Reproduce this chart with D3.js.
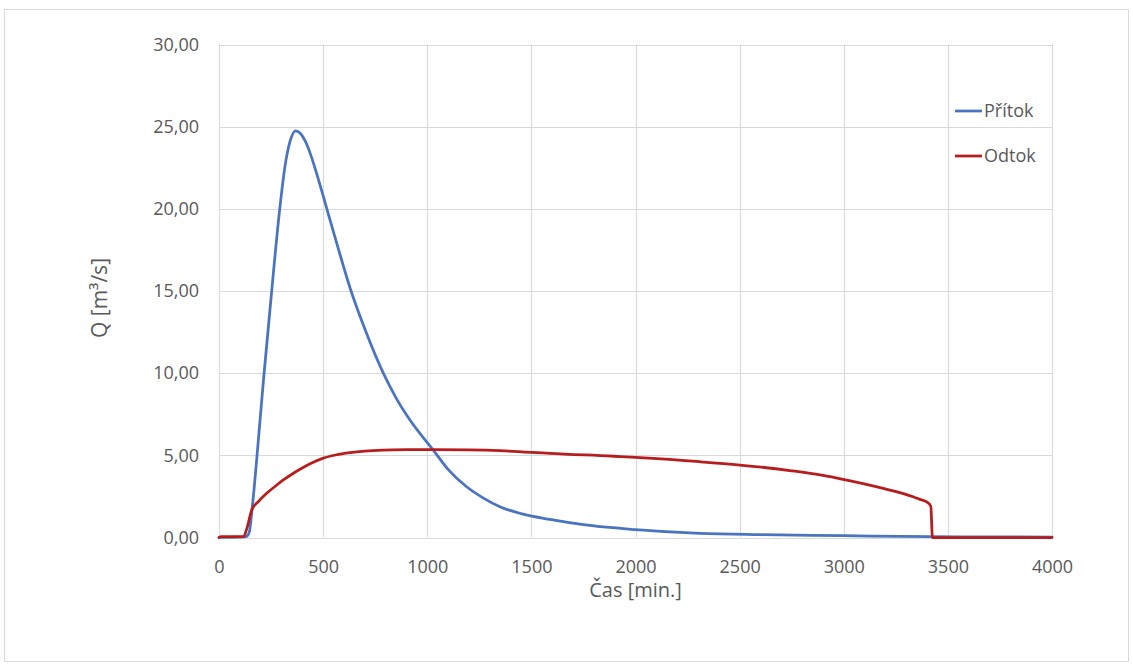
<!DOCTYPE html>
<html>
<head>
<meta charset="utf-8">
<script src="https://cdn.jsdelivr.net/npm/d3@7"></script>
<style>
  html, body { margin: 0; padding: 0; background: #fff; }
  svg { display: block; }
  text { font-family: "Open Sans", "Noto Sans", sans-serif; fill: #595959; }
</style>
</head>
<body>
<svg id="chart" width="1133" height="667"></svg>
<script>
// Hydrograph: inflow (Přítok) and outflow (Odtok) of a reservoir, time in minutes
const inflowTime = [0, 100, 130, 145, 160, 180, 213, 253, 290, 317, 341, 368, 390, 415, 440, 470, 509, 570, 629, 700, 789, 850, 917, 1029, 1100, 1189, 1270, 1349, 1450, 1589, 1750, 2000, 2309, 2600, 3000, 3420, 3700, 4000];
const inflowQ    = [0, 0.02, 0.05, 0.3, 1.87, 4.6, 9.5, 15.0, 19.8, 22.6, 24.1, 24.75, 24.6, 24.1, 23.3, 22.1, 20.4, 17.7, 15.2, 12.7, 10.0, 8.5, 7.15, 5.32, 4.15, 3.09, 2.4, 1.87, 1.45, 1.1, 0.78, 0.48, 0.25, 0.17, 0.11, 0.05, 0.04, 0.03];

const outflowTime = [0, 10, 60, 117, 135, 157, 190, 229, 270, 309, 350, 389, 440, 501, 560, 629, 700, 789, 900, 1029, 1200, 1349, 1589, 2000, 2309, 2501, 2750, 2900, 2997, 3189, 3333, 3365, 3400, 3418, 3426, 3500, 4000];
const outflowQ    = [0, 0.05, 0.05, 0.05, 0.6, 1.67, 2.2, 2.69, 3.12, 3.5, 3.85, 4.15, 4.5, 4.83, 5.02, 5.16, 5.25, 5.31, 5.34, 5.35, 5.33, 5.28, 5.12, 4.87, 4.61, 4.41, 4.06, 3.78, 3.54, 2.99, 2.48, 2.32, 2.15, 1.9, 0, 0, 0];

const seriesNames = ["Přítok", "Odtok"];
const seriesColors = ["#4a74c0", "#b81d1d"];

const xTicks = [0, 500, 1000, 1500, 2000, 2500, 3000, 3500, 4000];
const yTicks = [0, 5, 10, 15, 20, 25, 30];

const xTitle = "Čas [min.]";
const yTitle = "Q [m³/s]";

const plot = { left: 219, right: 1052, top: 44.5, bottom: 537.5 };

const svg = d3.select("#chart");

// outer chart frame
svg.append("rect")
  .attr("x", 4.5).attr("y", 9.5)
  .attr("width", 1124).attr("height", 652)
  .attr("fill", "#fff").attr("stroke", "#d9d9d9").attr("stroke-width", 1);

const x = d3.scaleLinear().domain([0, 4000]).range([plot.left, plot.right]);
const y = d3.scaleLinear().domain([0, 30]).range([plot.bottom, plot.top]);

const locale = d3.formatLocale({ decimal: ",", thousands: "", grouping: [3], currency: ["", ""] });
const fmtY = locale.format(".2f");

// gridlines
const grid = svg.append("g");
grid.selectAll("line.h").data(yTicks).join("line")
  .attr("x1", plot.left).attr("x2", plot.right)
  .attr("y1", d => Math.round(y(d)) + 0.5).attr("y2", d => Math.round(y(d)) + 0.5)
  .attr("stroke", "#d9d9d9").attr("stroke-width", 1);
grid.selectAll("line.v").data(xTicks).join("line")
  .attr("y1", plot.top).attr("y2", plot.bottom)
  .attr("x1", d => Math.round(x(d)) + 0.5).attr("x2", d => Math.round(x(d)) + 0.5)
  .attr("stroke", "#d9d9d9").attr("stroke-width", 1);

// axes (labels only, lines come from the grid)
const xAxis = d3.axisBottom(x).tickValues(xTicks).tickFormat(d3.format("d")).tickSize(0).tickPadding(23);
const gx = svg.append("g").attr("transform", `translate(0,${plot.bottom})`).call(xAxis);
gx.select(".domain").remove();
gx.selectAll("text").style("font-size", "18px").attr("fill", "#595959").attr("font-family", null);

const yAxis = d3.axisLeft(y).tickValues(yTicks).tickFormat(fmtY).tickSize(0).tickPadding(20);
const gy = svg.append("g").attr("transform", `translate(${plot.left},0)`).call(yAxis);
gy.select(".domain").remove();
gy.selectAll("text").style("font-size", "18px").attr("fill", "#595959").attr("font-family", null);

// axis titles
svg.append("text")
  .attr("x", (plot.left + plot.right) / 2).attr("y", 590).attr("dy", "0.35em")
  .attr("text-anchor", "middle").style("font-size", "20px")
  .text(xTitle);
svg.append("text")
  .attr("transform", `translate(100,298) rotate(-90)`)
  .attr("text-anchor", "middle").attr("dy", "0.35em").style("font-size", "21px")
  .text(yTitle);

// series lines
const line = d3.line().x(d => x(d[0])).y(d => y(d[1])).curve(d3.curveMonotoneX);
const inflow = inflowTime.map((t, i) => [t, inflowQ[i]]);
const outflow = outflowTime.map((t, i) => [t, outflowQ[i]]);

svg.append("path").datum(inflow)
  .attr("d", line).attr("fill", "none")
  .attr("stroke", seriesColors[0]).attr("stroke-width", 2.75)
  .attr("stroke-linejoin", "round").attr("stroke-linecap", "round");
svg.append("path").datum(outflow)
  .attr("d", line).attr("fill", "none")
  .attr("stroke", seriesColors[1]).attr("stroke-width", 2.75)
  .attr("stroke-linejoin", "round").attr("stroke-linecap", "round");

// legend
const legendY = [111, 156];
const lg = svg.append("g");
seriesNames.forEach((name, i) => {
  lg.append("line")
    .attr("x1", 955).attr("x2", 982)
    .attr("y1", legendY[i]).attr("y2", legendY[i])
    .attr("stroke", seriesColors[i]).attr("stroke-width", 2.75);
  lg.append("text")
    .attr("x", 984).attr("y", legendY[i]).attr("dy", "0.35em")
    .style("font-size", "18px")
    .text(name);
});
</script>
</body>
</html>
